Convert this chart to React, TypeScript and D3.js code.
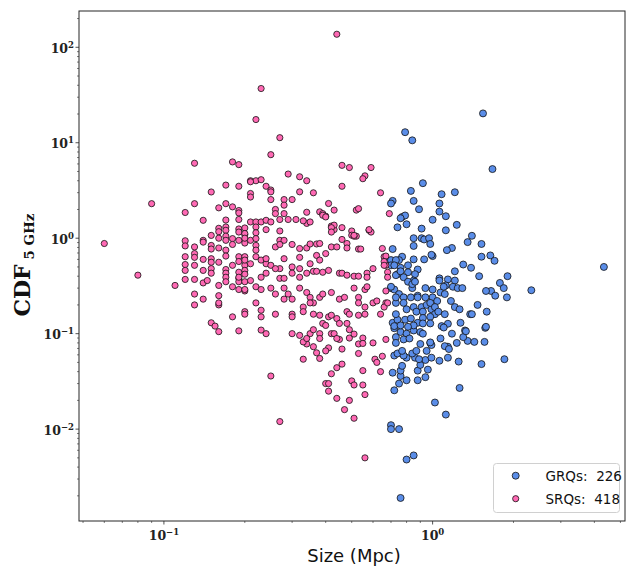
import * as d3 from 'd3'

// GRQs: [size (Mpc), CDF 5 GHz]
const grqPoints: [number, number][] = [
  [0.79, 12.9], [0.84, 10.6], [1.54, 20.3], [1.67, 5.3], [4.34, 0.5], [2.33, 0.285],
  [0.92, 3.77], [0.83, 3.13], [1.08, 2.89], [1.21, 3.03], [0.71, 2.46], [0.7, 2.31], [0.85, 2.46],
  [1.06, 2.31], [1.06, 1.9], [0.89, 2.01], [0.77, 1.67], [0.79, 1.73], [0.76, 1.62], [0.8, 1.4],
  [0.74, 1.3], [0.91, 1.26], [1.0, 1.56], [1.12, 1.7], [1.23, 1.38], [1.12, 1.21],
  [0.85, 1.0], [0.91, 1.0], [0.93, 0.97], [0.97, 1.0], [0.98, 0.87], [0.85, 0.83], [1.4, 1.06],
  [1.35, 0.91], [1.52, 0.87], [1.18, 0.79], [1.13, 0.75], [0.71, 0.77],
  [1.52, 0.64], [1.64, 0.66], [1.7, 0.58], [1.0, 0.65], [0.99, 0.67], [0.77, 0.64], [0.75, 0.59],
  [0.71, 0.57], [0.85, 0.6], [0.93, 0.6], [0.81, 0.52], [0.76, 0.49], [0.88, 0.47], [1.3, 0.53],
  [1.39, 0.49], [1.21, 0.45],
  [1.9, 0.4], [1.78, 0.34], [1.84, 0.3], [1.89, 0.24], [1.49, 0.4], [1.65, 0.28], [1.58, 0.28], [1.71, 0.25],
  [0.74, 0.42], [0.81, 0.44], [0.86, 0.42], [0.85, 0.36], [0.84, 0.3], [1.06, 0.38], [1.06, 0.36],
  [1.14, 0.37], [1.12, 0.32], [1.21, 0.36], [1.19, 0.31], [1.24, 0.3], [1.29, 0.3],
  [0.7, 0.3], [0.72, 0.29], [0.75, 0.26], [0.78, 0.24], [0.83, 0.24], [0.88, 0.25], [0.94, 0.3],
  [1.0, 0.29], [1.0, 0.24], [1.04, 0.22], [1.07, 0.27], [1.1, 0.31], [1.11, 0.26],
  [1.17, 0.22], [1.21, 0.19], [1.26, 0.18], [1.47, 0.2], [1.38, 0.16], [1.4, 0.16], [1.59, 0.17],
  [0.73, 0.21], [0.78, 0.21], [0.8, 0.18], [0.85, 0.19], [0.87, 0.17], [0.91, 0.19], [0.95, 0.2],
  [0.92, 0.17], [0.99, 0.18], [1.02, 0.16], [1.11, 0.16],
  [0.71, 0.13], [0.74, 0.14], [0.79, 0.14], [0.83, 0.144], [0.88, 0.13], [0.92, 0.146], [0.98, 0.15],
  [1.27, 0.13], [1.14, 0.127], [1.08, 0.12], [1.1, 0.116], [1.57, 0.115], [1.58, 0.118],
  [0.72, 0.114], [0.76, 0.104], [0.8, 0.1], [0.85, 0.108], [0.9, 0.104], [0.92, 0.1], [1.32, 0.108],
  [1.18, 0.1], [1.07, 0.089],
  [0.73, 0.092], [0.78, 0.087], [0.82, 0.089], [0.9, 0.078], [0.98, 0.08], [1.23, 0.08], [1.35, 0.084],
  [1.43, 0.082], [1.56, 0.082], [1.14, 0.073], [1.11, 0.074], [1.3, 0.092], [1.15, 0.069], [1.33, 0.106],
  [1.85, 0.054], [1.52, 0.048], [1.25, 0.051], [1.26, 0.027], [1.14, 0.056], [1.06, 0.052], [1.02, 0.019],
  [1.12, 0.0142], [0.7, 0.011], [0.7, 0.01], [0.75, 0.01], [0.8, 0.0048], [0.85, 0.0053], [0.76, 0.0019],
  [0.72, 0.0255], [0.75, 0.03], [0.8, 0.0325], [0.88, 0.0325], [0.94, 0.035], [0.71, 0.039], [0.76, 0.036],
  [0.76, 0.041], [0.77, 0.046], [0.96, 0.042], [0.88, 0.041], [0.9, 0.047], [0.94, 0.053], [0.86, 0.056],
  [0.89, 0.054], [0.8, 0.056], [0.72, 0.059], [0.74, 0.062], [0.78, 0.059], [0.77, 0.066], [0.84, 0.062],
  [0.87, 0.066], [0.95, 0.066], [0.99, 0.056], [0.99, 0.076], [0.98, 0.081],
  [0.67, 0.59], [0.7, 0.59], [0.73, 0.59], [0.73, 0.41], [0.7, 0.31], [0.73, 0.24], [0.73, 0.16],
  [0.72, 0.12], [0.73, 0.08],
  [0.7, 0.52], [0.72, 0.52], [0.76, 0.45], [0.78, 0.39], [0.81, 0.35], [0.84, 0.33], [0.86, 0.35],
  [0.94, 0.24], [0.88, 0.24], [0.98, 0.21], [1.02, 0.19], [1.05, 0.17], [0.98, 0.128], [0.92, 0.128],
  [0.85, 0.122], [0.81, 0.118], [0.76, 0.122],
]

// SRQs: [size (Mpc), CDF 5 GHz]
const srqPoints: [number, number][] = [
  [0.06, 0.88], [0.08, 0.41], [0.09, 2.3], [0.11, 0.32], [0.13, 6.1],
  [0.44, 137], [0.23, 37], [0.22, 17.5], [0.27, 11.3], [0.25, 7.5], [0.18, 6.3], [0.19, 5.9],
  [0.29, 4.7], [0.32, 4.4], [0.46, 5.8], [0.49, 5.5], [0.59, 5.5], [0.56, 4.5], [0.55, 4.2],
  [0.21, 4.0], [0.22, 4.0], [0.23, 4.1], [0.34, 4.0],
  [0.17, 3.6], [0.19, 3.5], [0.21, 3.9], [0.15, 3.05], [0.13, 2.3], [0.12, 1.86], [0.17, 2.3],
  [0.16, 2.08], [0.18, 2.13], [0.19, 1.95], [0.19, 1.84], [0.14, 1.54], [0.17, 1.55], [0.19, 1.57],
  [0.21, 1.48], [0.21, 2.94], [0.21, 2.7],
  [0.16, 1.27], [0.16, 1.17], [0.17, 1.31], [0.17, 1.21], [0.19, 1.25], [0.19, 1.16], [0.2, 1.28], [0.2, 1.09],
  [0.15, 1.07], [0.16, 1.0], [0.17, 1.05], [0.17, 0.95], [0.18, 0.99], [0.19, 0.95], [0.2, 0.89],
  [0.18, 0.86], [0.17, 0.75], [0.17, 0.65],
  [0.12, 0.94], [0.12, 0.83], [0.13, 0.81], [0.14, 0.95], [0.14, 0.91], [0.15, 0.84], [0.15, 0.77],
  [0.16, 0.79], [0.16, 0.56],
  [0.12, 0.64], [0.13, 0.69], [0.13, 0.63], [0.14, 0.6], [0.15, 0.61], [0.15, 0.56], [0.12, 0.53],
  [0.12, 0.46], [0.13, 0.52], [0.14, 0.46], [0.15, 0.48], [0.15, 0.43], [0.17, 0.47], [0.17, 0.43],
  [0.17, 0.39], [0.17, 0.35],
  [0.12, 0.37], [0.13, 0.37], [0.14, 0.34], [0.145, 0.36], [0.16, 0.32], [0.16, 0.25], [0.16, 0.2],
  [0.13, 0.26], [0.13, 0.2], [0.14, 0.23], [0.16, 0.21], [0.16, 0.105],
  [0.18, 0.52], [0.19, 0.64], [0.19, 0.57], [0.2, 0.64], [0.2, 0.52], [0.2, 0.46], [0.2, 0.42],
  [0.19, 0.38], [0.19, 0.35], [0.2, 0.35], [0.18, 0.31], [0.19, 0.29], [0.2, 0.28],
  [0.18, 0.15], [0.2, 0.17], [0.19, 0.107],
  [0.24, 3.5], [0.25, 3.2], [0.25, 3.06], [0.46, 3.5], [0.32, 3.06], [0.36, 2.99], [0.25, 2.54],
  [0.28, 2.54], [0.3, 2.54], [0.28, 2.22],
  [0.41, 2.31], [0.43, 1.97], [0.52, 1.97], [0.53, 2.04], [0.64, 2.99],
  [0.26, 2.0], [0.26, 1.81], [0.28, 1.81], [0.34, 1.87], [0.38, 1.89], [0.39, 1.81], [0.4, 1.7],
  [0.34, 1.43], [0.35, 1.48],
  [0.22, 1.48], [0.22, 1.31], [0.22, 1.14], [0.23, 1.48], [0.24, 1.54], [0.25, 1.48], [0.27, 1.57],
  [0.29, 1.57], [0.31, 1.57], [0.33, 1.52],
  [0.42, 1.34], [0.43, 1.23], [0.46, 1.29], [0.5, 1.19], [0.5, 1.075], [0.52, 1.05], [0.58, 1.21],
  [0.59, 1.16], [0.65, 0.78], [0.66, 0.64], [0.67, 0.52],
  [0.2, 1.12], [0.2, 1.0], [0.21, 0.95], [0.22, 0.99], [0.22, 0.84], [0.22, 0.75], [0.22, 0.64],
  [0.24, 1.23], [0.27, 1.19], [0.27, 0.95], [0.28, 0.95], [0.26, 0.81], [0.27, 0.86],
  [0.3, 0.86], [0.32, 0.78], [0.32, 0.63], [0.34, 0.79], [0.35, 0.87], [0.37, 0.87], [0.38, 0.88],
  [0.37, 0.66], [0.4, 0.69], [0.42, 0.81], [0.44, 0.81], [0.46, 0.97], [0.48, 0.88], [0.48, 0.79],
  [0.51, 1.05], [0.53, 0.77],
  [0.2, 0.59], [0.21, 0.54], [0.23, 0.59], [0.24, 0.54], [0.25, 0.52], [0.24, 0.61], [0.28, 0.61],
  [0.27, 0.48], [0.3, 0.5], [0.32, 0.48], [0.35, 0.54], [0.38, 0.59],
  [0.19, 0.44], [0.19, 0.39], [0.21, 0.36], [0.23, 0.39], [0.24, 0.43], [0.26, 0.48], [0.27, 0.38],
  [0.28, 0.38], [0.3, 0.43], [0.32, 0.39], [0.34, 0.43], [0.36, 0.45], [0.37, 0.45], [0.39, 0.44],
  [0.41, 0.46], [0.45, 0.43], [0.46, 0.43], [0.48, 0.41], [0.51, 0.4], [0.53, 0.4], [0.57, 0.43],
  [0.6, 0.48], [0.57, 0.39],
  [0.2, 0.29], [0.22, 0.31], [0.23, 0.29], [0.25, 0.3], [0.26, 0.26], [0.28, 0.3], [0.29, 0.26],
  [0.32, 0.3], [0.34, 0.27], [0.35, 0.24], [0.36, 0.21], [0.38, 0.24], [0.39, 0.26], [0.42, 0.27],
  [0.45, 0.23], [0.47, 0.24], [0.51, 0.3], [0.56, 0.29], [0.57, 0.31], [0.53, 0.24], [0.53, 0.21],
  [0.6, 0.21], [0.62, 0.22],
  [0.2, 0.16], [0.22, 0.21], [0.23, 0.176], [0.23, 0.15], [0.26, 0.16], [0.28, 0.23], [0.3, 0.23],
  [0.3, 0.16], [0.3, 0.15], [0.33, 0.19], [0.33, 0.17], [0.35, 0.21], [0.36, 0.16], [0.38, 0.156],
  [0.39, 0.128], [0.41, 0.15], [0.42, 0.156], [0.44, 0.144], [0.45, 0.128], [0.48, 0.128], [0.48, 0.17],
  [0.49, 0.16], [0.53, 0.156], [0.56, 0.16], [0.56, 0.19], [0.15, 0.13], [0.155, 0.12], [0.4, 0.122],
  [0.23, 0.109], [0.24, 0.1], [0.3, 0.1], [0.32, 0.096], [0.35, 0.1], [0.38, 0.1], [0.42, 0.1],
  [0.45, 0.087], [0.49, 0.09], [0.53, 0.078], [0.6, 0.08], [0.67, 0.087], [0.34, 0.078], [0.36, 0.073],
  [0.33, 0.082],
  [0.34, 0.089], [0.36, 0.11], [0.38, 0.089], [0.43, 0.1], [0.44, 0.089], [0.49, 0.11], [0.51, 0.099],
  [0.55, 0.09], [0.55, 0.079], [0.53, 0.062], [0.46, 0.069], [0.41, 0.071], [0.4, 0.066], [0.37, 0.063],
  [0.38, 0.055], [0.33, 0.054],
  [0.61, 0.054], [0.62, 0.05], [0.65, 0.058], [0.64, 0.04], [0.55, 0.041], [0.46, 0.048], [0.44, 0.044],
  [0.42, 0.038], [0.25, 0.036], [0.4, 0.03], [0.41, 0.03], [0.41, 0.025], [0.5, 0.032], [0.51, 0.029],
  [0.55, 0.029], [0.56, 0.023], [0.44, 0.021], [0.49, 0.02], [0.47, 0.016], [0.51, 0.013], [0.27, 0.012],
  [0.56, 0.005],
  [0.69, 1.81], [0.67, 0.65], [0.66, 0.57], [0.66, 0.52], [0.68, 0.44], [0.68, 0.39], [0.67, 0.28],
  [0.67, 0.21], [0.66, 0.19], [0.68, 0.21], [0.64, 0.16],
  [0.39, 1.74], [0.4, 1.67], [0.43, 1.37], [0.42, 1.29], [0.42, 1.16], [0.51, 1.07], [0.58, 1.23],
  [0.54, 0.77],
]

const seriesNames = ['GRQs', 'SRQs']
const seriesCounts = [226, 418]
const xMajorTicks = [0.1, 1]
const yMajorTicks = [0.01, 0.1, 1, 10, 100]

const W = 627
const H = 567
const left = 79
const right = 625
const top = 11
const bottom = 521

const blue = '#5a8de8'
const pink = '#ff69b4'

const serif = '"DejaVu Serif", serif'
const sans = '"DejaVu Sans", sans-serif'

function minorTicks(domain: number[]) {
  const out: number[] = []
  for (let e = -4; e <= 3; e++) {
    for (let k = 2; k <= 9; k++) {
      const v = k * Math.pow(10, e)
      if (v >= domain[0] && v <= domain[1]) out.push(v)
    }
  }
  return out
}

function expLabel(v: number) {
  const e = Math.round(Math.log10(v))
  return e < 0 ? '\u2212' + Math.abs(e) : String(e)
}

export default function App() {
  const xDomain = [0.0483, 5.2]
  const yDomain = [0.00109, 240]
  const x = d3.scaleLog().domain(xDomain).range([left, right])
  const y = d3.scaleLog().domain(yDomain).range([bottom, top])

  const xMinor = minorTicks(xDomain)
  const yMinor = minorTicks(yDomain)
  const axisColor = '#262626'

  return (
    <svg width={W} height={H} style={{ position: 'absolute', left: 0, top: 0, background: '#fff' }}>
      <rect x={0} y={0} width={W} height={H} fill="#fff" />

      {/* points */}
      <g stroke="#111" strokeWidth={0.8}>
        {grqPoints.map((d, i) => (
          <circle key={'g' + i} cx={x(d[0])} cy={y(d[1])} r={3.5} fill={blue} />
        ))}
        {srqPoints.map((d, i) => (
          <circle key={'s' + i} cx={x(d[0])} cy={y(d[1])} r={3.1} fill={pink} />
        ))}
      </g>

      {/* frame */}
      <rect x={left} y={top} width={right - left} height={bottom - top} fill="none" stroke={axisColor} strokeWidth={1} />

      {/* ticks */}
      <g stroke={axisColor} strokeWidth={0.8}>
        {xMajorTicks.map(t => (
          <line key={'xM' + t} x1={x(t)} x2={x(t)} y1={bottom} y2={bottom + 3.5} />
        ))}
        {xMinor.map(t => (
          <line key={'xm' + t} x1={x(t)} x2={x(t)} y1={bottom} y2={bottom + 2} strokeWidth={0.6} />
        ))}
        {yMajorTicks.map(t => (
          <line key={'yM' + t} x1={left - 3.5} x2={left} y1={y(t)} y2={y(t)} />
        ))}
        {yMinor.map(t => (
          <line key={'ym' + t} x1={left - 2} x2={left} y1={y(t)} y2={y(t)} strokeWidth={0.6} />
        ))}
      </g>

      {/* x tick labels */}
      {xMajorTicks.map(t => (
        <text key={'xl' + t} x={x(t)} y={540} textAnchor="middle" fontFamily={serif} fontWeight="bold" fontSize={12.5} fill="#222">
          <tspan>10</tspan>
          <tspan dy={-5} fontSize={8.5}>{expLabel(t)}</tspan>
        </text>
      ))}

      {/* y tick labels */}
      {yMajorTicks.map(t => (
        <text key={'yl' + t} x={74} y={y(t) + 5.5} textAnchor="end" fontFamily={serif} fontWeight="bold" fontSize={12.5} fill="#222">
          <tspan>10</tspan>
          <tspan dy={-5} fontSize={8.5}>{expLabel(t)}</tspan>
        </text>
      ))}

      {/* axis titles */}
      <text x={354} y={562} textAnchor="middle" fontFamily={sans} fontSize={18} fill="#111">Size (Mpc)</text>
      <text transform="translate(30,265) rotate(-90)" textAnchor="middle" fontFamily={serif} fontWeight="bold" fill="#111">
        <tspan fontSize={22}>CDF</tspan>
        <tspan fontSize={13.5} dy={4}> 5 GHz</tspan>
      </text>

      {/* legend */}
      <g>
        <rect x={493.5} y={463.5} width={126} height={49} rx={3} fill="#fff" fillOpacity={0.85} stroke="#d0d0d0" strokeWidth={1} />
        {seriesNames.map((name, i) => (
          <g key={name}>
            <circle cx={515.7} cy={475.7 + i * 23} r={i === 0 ? 3.5 : 3.1} fill={i === 0 ? blue : pink} stroke="#111" strokeWidth={0.8} />
            <text x={545.5} y={480.7 + i * 23} fontFamily={sans} fontSize={13.5} fill="#111" style={{ whiteSpace: 'pre' }}>
              {name + ':  ' + seriesCounts[i]}
            </text>
          </g>
        ))}
      </g>
    </svg>
  )
}
